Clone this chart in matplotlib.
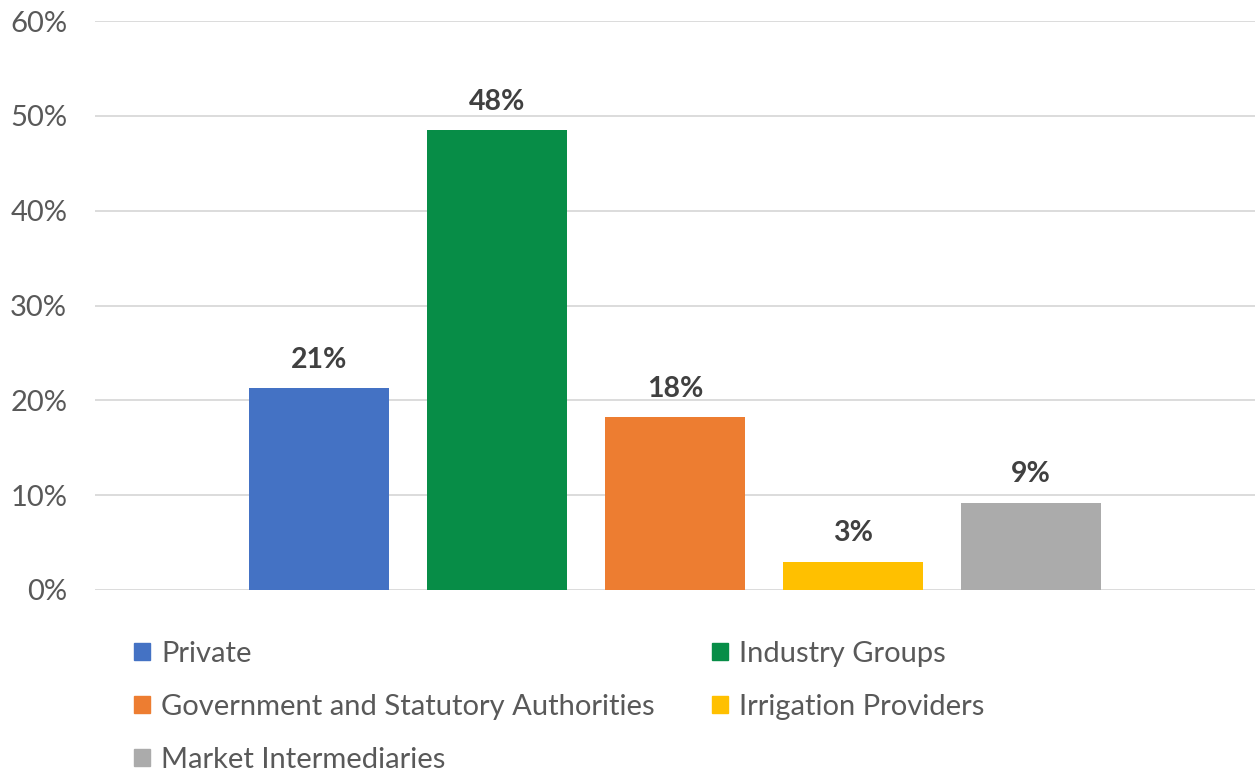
import matplotlib.pyplot as plt
from matplotlib.patches import Patch
from matplotlib.ticker import PercentFormatter

categories = ["Private", "Industry Groups", "Government and Statutory Authorities",
              "Irrigation Providers", "Market Intermediaries"]
shares = [21.3, 48.5, 18.2, 3.0, 9.2]
colors = ["#4472C4", "#078D47", "#ED7D31", "#FFC000", "#ABABAB"]
yticks = [0, 10, 20, 30, 40, 50, 60]

plt.rcParams['font.family'] = ['Lato', 'DejaVu Sans']

fig = plt.figure(figsize=(12.55, 7.71), dpi=100)
ax = fig.add_axes([95 / 1255, 1 - 590 / 771, 1 - 95 / 1255, (590 - 21) / 771])

x = list(range(len(categories)))
bars = ax.bar(x, shares, width=0.79, color=colors, zorder=3)

for xi, v in zip(x, shares):
    ax.annotate(f"{v:.0f}%", (xi, v), xytext=(0, 11), textcoords="offset points",
                ha="center", va="bottom", fontsize=20.5, fontweight="bold", color="#404040")

ax.set_xlim(-1.26, 5.26)
ax.set_ylim(0, 60)
ax.set_yticks(yticks)
ax.yaxis.set_major_formatter(PercentFormatter(decimals=0))
ax.set_xticks([])
ax.grid(axis="y", color="#D9D9D9", linewidth=1.3, zorder=0)
for s in ax.spines.values():
    s.set_visible(False)
ax.tick_params(axis="y", length=0, pad=20, labelsize=21, labelcolor="#595959")

# legend in two columns, laid out row by row
handles = [Patch(color=c, label=l) for c, l in zip(colors, categories)]
common = dict(frameon=False, fontsize=21, labelcolor="#595959", handlelength=0.55,
              handleheight=0.55, handletextpad=0.38, labelspacing=0.92, borderpad=0,
              borderaxespad=0, loc="upper left")
fig.legend(handles=[handles[0], handles[2], handles[4]],
           bbox_to_anchor=(134 / 1255, 1 - 641 / 771), **common)
fig.legend(handles=[handles[1], handles[3]],
           bbox_to_anchor=(712 / 1255, 1 - 641 / 771), **common)

fig.savefig("out.png", dpi=100)
